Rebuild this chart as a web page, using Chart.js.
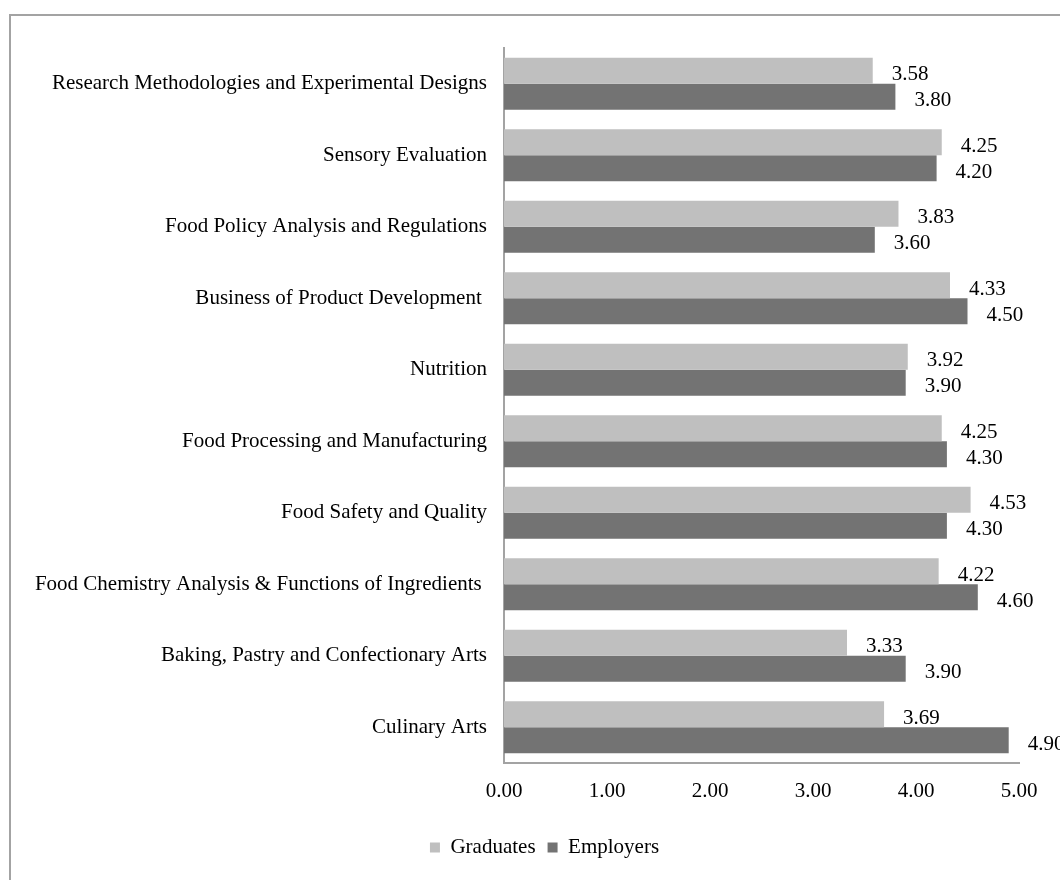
<!DOCTYPE html>
<html>
<head>
<meta charset="utf-8">
<script src="https://cdn.jsdelivr.net/npm/chart.js@4/dist/chart.umd.min.js"></script>
<style>
  html, body { margin: 0; padding: 0; background: #fff; overflow: hidden; }
  #frame { position: absolute; left: 9px; top: 14px; width: 1200px; height: 1000px; border: 2px solid #a3a3a3; box-sizing: border-box; }
  #wrap { position: absolute; left: 0; top: 0; width: 1060px; height: 880px; }
</style>
</head>
<body>
<div id="frame"></div>
<div id="wrap"><canvas id="bar-chart" width="1060" height="880"></canvas></div>
<script>
var categories = [
  'Research Methodologies and Experimental Designs',
  'Sensory Evaluation',
  'Food Policy Analysis and Regulations',
  'Business of Product Development ',
  'Nutrition',
  'Food Processing and Manufacturing',
  'Food Safety and Quality',
  'Food Chemistry Analysis & Functions of Ingredients ',
  'Baking, Pastry and Confectionary Arts',
  'Culinary Arts'
];
var graduates = [3.58, 4.25, 3.83, 4.33, 3.92, 4.25, 4.53, 4.22, 3.33, 3.69];
var employers = [3.80, 4.20, 3.60, 4.50, 3.90, 4.30, 4.30, 4.60, 3.90, 4.90];
var xTicks = [0, 1, 2, 3, 4, 5];

var serif = '"Liberation Serif", "Times New Roman", serif';

// value labels next to the bar ends
var valueLabels = {
  id: 'valueLabels',
  afterDatasetsDraw: function(chart) {
    var ctx = chart.ctx;
    ctx.save();
    ctx.font = '21px ' + serif;
    ctx.fillStyle = '#000';
    ctx.textAlign = 'left';
    ctx.textBaseline = 'middle';
    chart.data.datasets.forEach(function(ds, i) {
      chart.getDatasetMeta(i).data.forEach(function(bar, j) {
        ctx.fillText(ds.data[j].toFixed(2), bar.x + 19, bar.y + 4);
      });
    });
    ctx.restore();
  }
};

// legend sits a little right of the canvas centre
var shiftLegend = {
  id: 'shiftLegend',
  afterLayout: function(chart) {
    chart.legend.left += 30;
    chart.legend.right += 30;
  }
};

var mychart = document.getElementById('bar-chart');
var myBarChart = new Chart(mychart, {
  type: 'bar',
  data: {
    labels: categories,
    datasets: [
      {
        label: 'Graduates',
        data: graduates,
        backgroundColor: '#bfbfbf',
        borderWidth: 0
      },
      {
        label: 'Employers',
        data: employers,
        backgroundColor: '#737373',
        borderWidth: 0
      }
    ]
  },
  options: {
    indexAxis: 'y',
    responsive: false,
    animation: false,
    categoryPercentage: 0.727,
    barPercentage: 1,
    layout: {
      padding: { left: 10, right: 41, top: 48, bottom: 12 }
    },
    scales: {
      y: {
        grid: { display: false, drawTicks: false },
        border: { display: true, color: '#a3a3a3', width: 2 },
        ticks: {
          color: '#000',
          padding: 17,
          font: { family: serif, size: 21 }
        },
        afterFit: function(scale) { scale.width = 494; }
      },
      x: {
        min: 0,
        max: 5,
        grid: { display: false, drawTicks: false },
        border: { display: true, color: '#a3a3a3', width: 2 },
        afterBuildTicks: function(scale) {
          scale.ticks = xTicks.map(function(v) { return { value: v }; });
        },
        ticks: {
          color: '#000',
          padding: 16,
          font: { family: serif, size: 21 },
          callback: function(v) { return Number(v).toFixed(2); }
        },
        afterFit: function(scale) { scale.height = 62; }
      }
    },
    plugins: {
      legend: {
        position: 'bottom',
        labels: {
          color: '#000',
          boxWidth: 10,
          boxHeight: 10,
          padding: 12,
          font: { family: serif, size: 21 }
        }
      },
      tooltip: { enabled: false }
    }
  },
  plugins: [valueLabels, shiftLegend]
});
</script>
</body>
</html>
